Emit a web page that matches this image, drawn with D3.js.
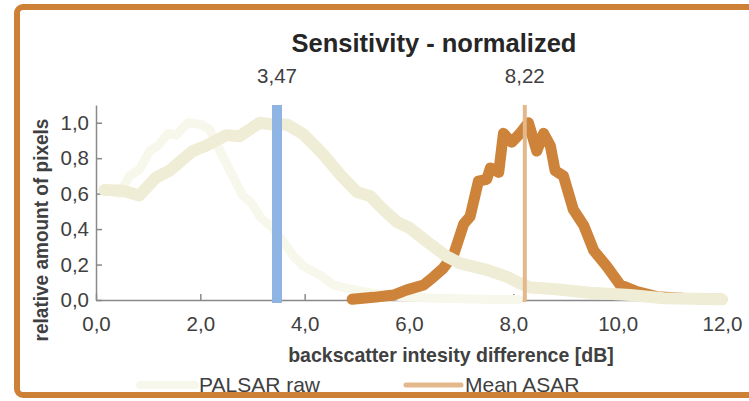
<!DOCTYPE html>
<html>
<head>
<meta charset="utf-8">
<script src="https://cdn.jsdelivr.net/npm/d3@7"></script>
<style>
  body { margin: 0; background: #fff; }
  svg text { font-family: "Liberation Sans", Arial, sans-serif; }
</style>
</head>
<body>
<svg id="chart" width="749" height="401"></svg>
<script>
// PALSAR raw (very pale)
const palsarRawX = [0.2, 0.45, 0.64, 0.83, 1.03, 1.19, 1.38, 1.54, 1.76, 2.02, 2.18, 2.43, 2.62, 2.81, 2.97, 3.17, 3.36, 3.59, 3.79, 3.98, 4.30, 4.55, 4.81, 5.26, 5.83, 6.5, 7.2, 7.7, 8.1];
const palsarRawY = [0.62, 0.60, 0.70, 0.735, 0.84, 0.87, 0.94, 0.93, 1.0, 0.99, 0.96, 0.81, 0.70, 0.59, 0.55, 0.46, 0.415, 0.33, 0.245, 0.19, 0.14, 0.085, 0.066, 0.04, 0.02, 0.01, 0.005, 0.003, 0.003];
// PALSAR (khaki, thick)
const palsarX = [0.16, 0.51, 0.83, 1.15, 1.41, 1.85, 2.11, 2.50, 2.75, 3.14, 3.39, 3.66, 3.98, 4.36, 4.68, 5.00, 5.26, 5.51, 5.77, 6.02, 6.34, 6.73, 6.98, 7.49, 7.88, 8.13, 8.32, 8.77, 9.28, 9.47, 10.24, 10.88, 12.0];
const palsarY = [0.62, 0.617, 0.59, 0.69, 0.73, 0.84, 0.87, 0.93, 0.924, 1.0, 0.99, 0.99, 0.934, 0.82, 0.707, 0.61, 0.585, 0.51, 0.44, 0.405, 0.33, 0.245, 0.207, 0.17, 0.13, 0.094, 0.07, 0.062, 0.047, 0.041, 0.028, 0.01, 0.004];
// ASAR (orange)
const asarX = [4.91, 5.32, 5.70, 5.96, 6.28, 6.47, 6.66, 6.86, 7.05, 7.17, 7.33, 7.49, 7.56, 7.72, 7.81, 7.97, 8.13, 8.29, 8.45, 8.58, 8.71, 8.80, 8.96, 9.15, 9.35, 9.54, 9.79, 10.05, 10.37, 10.75, 11.26, 12.0];
const asarY = [0.004, 0.015, 0.028, 0.057, 0.085, 0.13, 0.18, 0.26, 0.43, 0.47, 0.67, 0.68, 0.745, 0.72, 0.94, 0.89, 0.94, 1.0, 0.84, 0.94, 0.87, 0.73, 0.70, 0.51, 0.42, 0.28, 0.19, 0.085, 0.047, 0.019, 0.01, 0.004];

const meanPalsar = 3.47;
const meanAsar = 8.22;

const xTicks = [0, 2, 4, 6, 8, 10, 12];
const yTicks = [0, 0.2, 0.4, 0.6, 0.8, 1.0];
const legendLabels = ["PALSAR raw", "Mean ASAR"];

const fmt = v => v.toFixed(1).replace(".", ",");
const fmt2 = v => v.toFixed(2).replace(".", ",");

const svg = d3.select("#chart");

// frame
svg.append("rect")
   .attr("x", 17).attr("y", 7)
   .attr("width", 760).attr("height", 388)
   .attr("rx", 6)
   .attr("fill", "#fff")
   .attr("stroke", "#cc8137").attr("stroke-width", 6);

const scX = d3.scaleLinear().domain([0, 12]).range([96, 722]),
      scY = d3.scaleLinear().domain([0, 1.1]).range([300, 105]);

// squeeze a text a bit horizontally
function narrow(sel, k) {
  sel.each(function() {
    const w = this.getComputedTextLength();
    d3.select(this).attr("textLength", w * k).attr("lengthAdjust", "spacingAndGlyphs");
  });
}

// axes (ticks inside)
const gx = svg.append("g").attr("transform", "translate(0,300)")
   .call(d3.axisBottom(scX).tickValues(xTicks).tickFormat(fmt).tickSizeInner(-6).tickSizeOuter(0).tickPadding(16));
const gy = svg.append("g").attr("transform", "translate(96,0)")
   .call(d3.axisLeft(scY).tickValues(yTicks).tickFormat(fmt).tickSizeInner(-6).tickSizeOuter(0).tickPadding(7));
[gx, gy].forEach(g => {
  g.select(".domain").attr("stroke", "#898989").attr("stroke-width", 1.5);
  g.selectAll(".tick line").attr("stroke", "#898989").attr("stroke-width", 1.5);
  g.selectAll(".tick text").attr("fill", "#404040").style("font-size", "20.5px")
   .style("font-family", '"Liberation Sans", Arial, sans-serif');
});

const line = d3.line().x(d => scX(d[0])).y(d => scY(d[1]));
function drawSeries(xs, ys, color, width) {
  svg.append("path")
     .datum(d3.zip(xs, ys))
     .attr("d", line)
     .attr("fill", "none")
     .attr("stroke", color).attr("stroke-width", width)
     .attr("stroke-linejoin", "round").attr("stroke-linecap", "round");
}

drawSeries(palsarRawX, palsarRawY, "#f8f7eb", 9);
drawSeries(asarX, asarY, "#cd8339", 11);
drawSeries(palsarX, palsarY, "#efedd5", 12);

// mean lines
svg.append("line")
   .attr("x1", scX(meanPalsar)).attr("x2", scX(meanPalsar))
   .attr("y1", scY(0) + 3).attr("y2", scY(1.1))
   .attr("stroke", "#8db4e3").attr("stroke-width", 10);
svg.append("line")
   .attr("x1", scX(meanAsar)).attr("x2", scX(meanAsar))
   .attr("y1", scY(0) + 2).attr("y2", scY(1.1))
   .attr("stroke", "#e3b88a").attr("stroke-width", 4);

// mean labels
[meanPalsar, meanAsar].forEach(m => {
  svg.append("text").attr("x", scX(m)).attr("y", 83)
     .attr("text-anchor", "middle").attr("fill", "#404040").style("font-size", "20.5px")
     .text(fmt2(m));
});

// title
svg.append("text").attr("x", 434).attr("y", 52)
   .attr("text-anchor", "middle").attr("fill", "#262626")
   .style("font-size", "25.5px").style("font-weight", "bold")
   .text("Sensitivity - normalized");

// axis titles
svg.append("text").attr("x", 451).attr("y", 362)
   .attr("text-anchor", "middle").attr("fill", "#404040")
   .style("font-size", "21px").style("font-weight", "bold")
   .text("backscatter intesity difference [dB]")
   .call(narrow, 0.93);
svg.append("text")
   .attr("transform", "translate(48,230) rotate(-90)")
   .attr("text-anchor", "middle").attr("fill", "#404040")
   .style("font-size", "20px").style("font-weight", "bold")
   .text("relative amount of pixels")
   .call(narrow, 0.95);

// legend
const legend = [
  { label: legendLabels[0], color: "#f8f7eb", width: 8, x: 140 },
  { label: legendLabels[1], color: "#e3b88a", width: 5, x: 406 }
];
legend.forEach(d => {
  svg.append("line").attr("x1", d.x).attr("x2", d.x + 55)
     .attr("y1", 385).attr("y2", 385)
     .attr("stroke", d.color).attr("stroke-width", d.width).attr("stroke-linecap", "round");
  svg.append("text").attr("x", d.x + 59).attr("y", 392)
     .attr("fill", "#404040").style("font-size", "21px").text(d.label);
});
</script>
</body>
</html>
